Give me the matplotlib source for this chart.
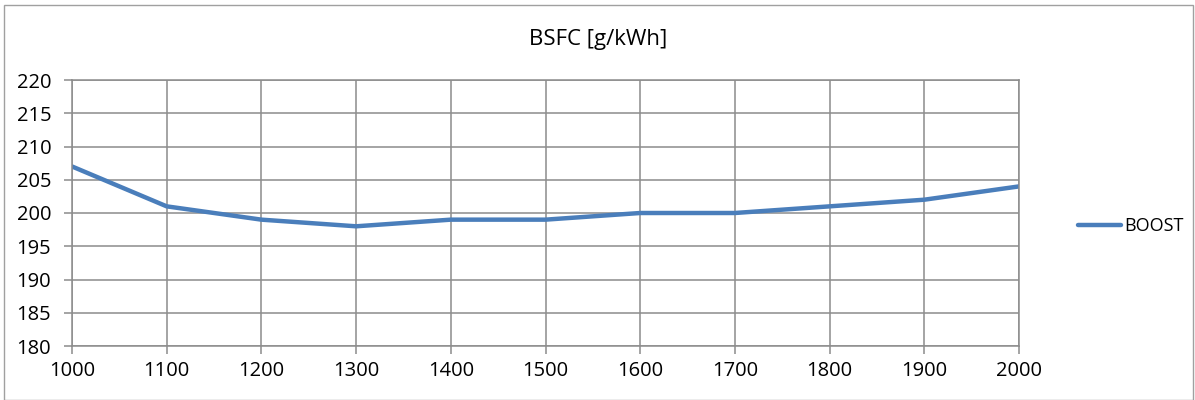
import numpy as np
import matplotlib.pyplot as plt
from matplotlib.patches import Rectangle

# BSFC over engine speed
rpm = [1000, 1100, 1200, 1300, 1400, 1500, 1600, 1700, 1800, 1900, 2000]
bsfc = [207, 201, 199, 198, 199, 199, 200, 200, 201, 202, 204]
series_name = 'BOOST'
title = 'BSFC [g/kWh]'

plt.rcParams['font.family'] = ['Open Sans', 'DejaVu Sans']

fig = plt.figure(figsize=(11.95, 4), dpi=100)
W, H = 1195, 400
ax = fig.add_axes([72 / W, 1 - 346 / H, (1019 - 72) / W, (346 - 80) / H])

# outer chart border
fig.patches.append(Rectangle((4 / W, 0), 1 - 6 / W, 1 - 5 / H, transform=fig.transFigure,
                             fill=False, edgecolor='#a0a0a0', linewidth=1))

ax.plot(rpm, bsfc, color='#4a7ebb', linewidth=3.2, label=series_name,
        solid_capstyle='round', solid_joinstyle='round')

ax.set_xlim(1000, 2000)
ax.set_ylim(180, 220)
ax.set_xticks(rpm)
ax.set_yticks(np.arange(180, 221, 5))
ax.grid(True, color='#8c8c8c', linewidth=1.1)
ax.set_axisbelow(True)
for s in ax.spines.values():
    s.set_color('#8c8c8c')
    s.set_linewidth(1.1)
ax.tick_params(axis='both', colors='#8c8c8c', length=6, width=1.1, labelcolor='black',
               labelsize=14.5)
ax.tick_params(axis='x', pad=5)
ax.tick_params(axis='y', pad=9)

fig.text(598 / W, 1 - 40 / H, title, ha='center', va='center', fontsize=16)

ax.legend(loc='center left', bbox_to_anchor=(1.045, 0.45), frameon=False,
          fontsize=13, handlelength=2.4, handletextpad=0.15)

fig.savefig('out.png', dpi=100)
